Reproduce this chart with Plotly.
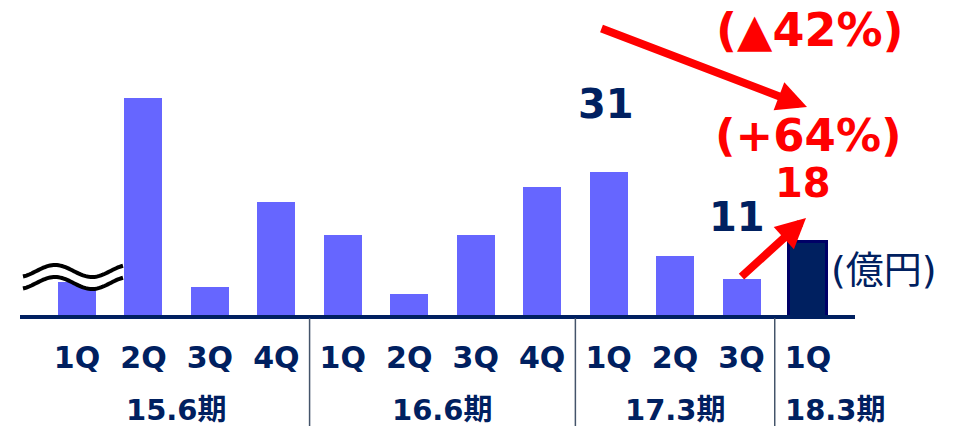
import numpy as np
import plotly.graph_objects as go

# ---------------- data ----------------
periods = ["15.6期", "16.6期", "17.3期", "18.3期"]
quarters = ["1Q", "2Q", "3Q", "4Q", "1Q", "2Q", "3Q", "4Q", "1Q", "2Q", "3Q", "1Q"]
period_index = [0, 0, 0, 0, 1, 1, 1, 1, 2, 2, 2, 3]
values = [10.5, 44.8, 9.5, 25.4, 19.2, 8.2, 19.2, 28.2, 31, 15.3, 11, 18]
value_labels = {8: "31", 10: "11", 11: "18"}
yoy_text = "(▲42%)"
qoq_text = "(+64%)"
unit_text = "(億円)"

# ---------------- styling / layout constants ----------------
W, H = 960, 426
PLOT_H = 315            # plot area height in px (top margin 0)
BOT = H - PLOT_H
NAVY = "#002060"
RED = "#FF0000"
BAR = "#6666FF"
FONT = "DejaVu Sans, Verdana, Noto Sans CJK JP"

x_px0, x_step = 77.0, 66.45       # pixel centre of first category, spacing
line_l, line_r = 20.0, 855.0      # axis line extent in px
x_range = [(line_l - x_px0) / x_step, (line_r - x_px0) / x_step]
y_base, y_per_px = 4.27, 0.1869
y_range = [y_base, y_base + PLOT_H * y_per_px]


def px(xp):
    return xp / W


def py(yp):
    return (PLOT_H - yp) / PLOT_H


n = len(values)
xs = list(range(n))
colors = [BAR] * (n - 1) + [NAVY]
line_colors = [BAR] * (n - 1) + ["#000066"]
line_widths = [0] * (n - 1) + [3]

fig = go.Figure()
fig.add_trace(go.Bar(
    x=xs, y=values, width=0.572,
    marker=dict(color=colors, line=dict(color=line_colors, width=line_widths)),
    hoverinfo="skip", showlegend=False,
))

annotations = []
# value labels
label_style = {8: (NAVY, -3, 68), 10: (NAVY, -5, 62), 11: (RED, -5, 59)}
for i, txt in value_labels.items():
    c, xs_, ys_ = label_style[i]
    annotations.append(dict(
        x=i, y=values[i], xref="x", yref="y", text=f"<b>{txt}</b>",
        showarrow=False, xanchor="center", yanchor="middle",
        xshift=xs_, yshift=ys_, font=dict(family=FONT, size=40, color=c)))

# growth texts
annotations.append(dict(x=px(810), y=py(30), xref="paper", yref="paper",
                        xanchor="center", yanchor="middle",
                        text=f"<b>{yoy_text}</b>", showarrow=False,
                        font=dict(family=FONT, size=46, color=RED)))
annotations.append(dict(x=px(808), y=py(135), xref="paper", yref="paper",
                        xanchor="center", yanchor="middle",
                        text=f"<b>{qoq_text}</b>", showarrow=False,
                        font=dict(family=FONT, size=45, color=RED)))
annotations.append(dict(x=px(884), y=py(270), xref="paper", yref="paper",
                        xanchor="center", yanchor="middle",
                        text=unit_text, showarrow=False,
                        font=dict(family=FONT, size=38, color=NAVY)))

# arrows
for (sx, sy), (tx, ty) in [((600, 28), (807, 107)), ((740, 278), (806, 218))]:
    annotations.append(dict(
        x=px(tx), y=py(ty), xref="paper", yref="paper",
        ax=sx - tx, ay=sy - ty, axref="pixel", ayref="pixel",
        text="", showarrow=True, arrowhead=2, arrowsize=0.75,
        arrowwidth=8, arrowcolor=RED))

# period labels
for p, name in enumerate(periods):
    idx = [i for i in range(n) if period_index[i] == p]
    if len(idx) > 1:
        annotations.append(dict(
            x=(idx[0] + idx[-1]) / 2, y=py(410), xref="x", yref="paper",
            text=f"<b>{name}</b>", showarrow=False, xanchor="center",
            yanchor="middle", font=dict(family=FONT, size=29, color=NAVY)))
    else:
        annotations.append(dict(
            x=idx[0] - 0.5, y=py(410), xref="x", yref="paper", xshift=8,
            text=f"<b>{name}</b>", showarrow=False, xanchor="left",
            yanchor="middle", font=dict(family=FONT, size=29, color=NAVY)))

shapes = []
# separators between periods
for i in range(1, n):
    if period_index[i] != period_index[i - 1]:
        shapes.append(dict(type="line", xref="x", yref="paper",
                           x0=i - 0.5, x1=i - 0.5, y0=py(318), y1=py(H + 2),
                           line=dict(color="#44546A", width=1.5)))

# axis-break wave
wx = np.linspace(23, 123, 60)
wy = 271 - 6 * np.sin(2 * np.pi * (wx - 36.5) / 74)
gap = 12
band = "M " + " L ".join(f"{px(a):.5f},{py(b):.5f}" for a, b in zip(wx, wy))
band += " L " + " L ".join(f"{px(a):.5f},{py(b + gap):.5f}" for a, b in zip(wx[::-1], wy[::-1])) + " Z"
shapes.append(dict(type="path", xref="paper", yref="paper", path=band,
                   fillcolor="white", line=dict(width=0)))
for off in (0, gap):
    path = "M " + " L ".join(f"{px(a):.5f},{py(b + off):.5f}" for a, b in zip(wx, wy))
    shapes.append(dict(type="path", xref="paper", yref="paper", path=path,
                       line=dict(color="black", width=4)))

fig.update_layout(
    width=W, height=H,
    margin=dict(l=0, r=0, t=0, b=BOT, pad=0),
    paper_bgcolor="white", plot_bgcolor="white",
    xaxis=dict(domain=[line_l / W, line_r / W], range=x_range,
               tickvals=xs, ticktext=quarters, ticks="",
               showgrid=False, zeroline=False, showline=True,
               linecolor=NAVY, linewidth=4, ticklabelstandoff=13,
               tickfont=dict(family=FONT, size=30, color=NAVY, weight="bold")),
    yaxis=dict(range=y_range, visible=False, showgrid=False, zeroline=False),
    annotations=annotations, shapes=shapes,
    bargap=0,
)

fig.write_html(
    "out.html",
    config={"displayModeBar": False},
    post_script="document.body.style.margin='0';document.body.style.overflow='hidden';",
)
